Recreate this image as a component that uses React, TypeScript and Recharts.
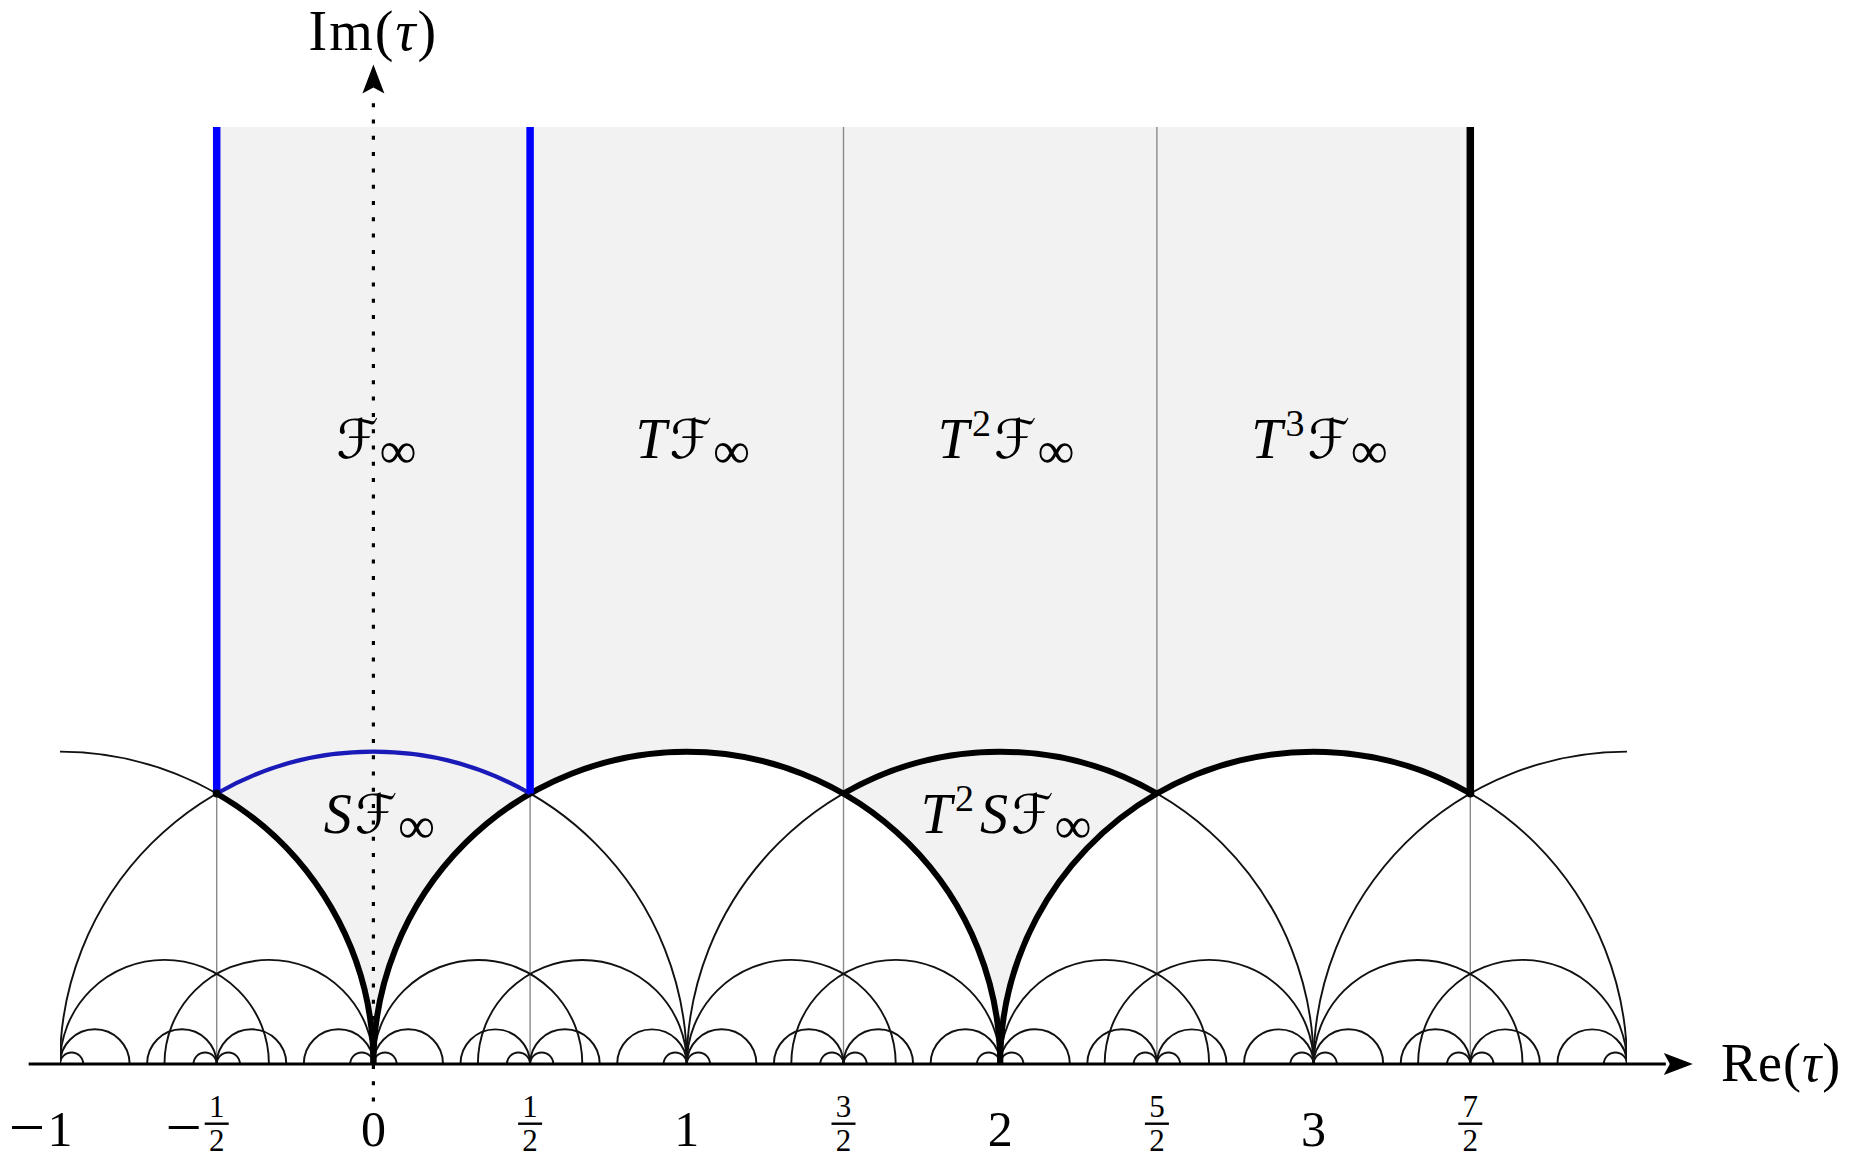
import React from "react";
import {
  ComposedChart,
  XAxis,
  YAxis,
  ReferenceArea,
  ReferenceLine,
  ReferenceDot,
  Scatter,
} from "recharts";

const H = Math.sqrt(3) / 2;

// Re(τ) tick positions and their labels
const xTicks = [-1, -0.5, 0, 0.5, 1, 1.5, 2, 2.5, 3, 3.5];
const tickLabels = ["−1", "−1/2", "0", "1/2", "1", "3/2", "2", "5/2", "3", "7/2"];

// strip edges Re(τ) = n + 1/2
const stripEdges = [-0.5, 0.5, 1.5, 2.5, 3.5];

// geodesics: centres on the real axis, grouped by radius
const unitCentres = [-1, 0, 1, 2, 3, 4];
const thirdCentres = [-2 / 3, -1 / 3, 1 / 3, 2 / 3, 4 / 3, 5 / 3, 7 / 3, 8 / 3, 10 / 3, 11 / 3];
const ninthCentres = [
  -8 / 9, -11 / 18, -7 / 18, -1 / 9, 1 / 9, 7 / 18, 11 / 18, 8 / 9, 10 / 9, 25 / 18,
  29 / 18, 17 / 9, 19 / 9, 43 / 18, 47 / 18, 26 / 9, 28 / 9, 61 / 18, 65 / 18, 35 / 9,
];
const tinyCentres = [
  -26 / 27, -29 / 54, -25 / 54, -1 / 27, 1 / 27, 25 / 54, 29 / 54, 26 / 27, 28 / 27, 79 / 54,
  83 / 54, 53 / 27, 55 / 27, 133 / 54, 137 / 54, 80 / 27, 82 / 27, 187 / 54, 191 / 54, 107 / 27,
];

// boundary pieces of the fundamental domains (circle centre, angles in degrees)
const thickArcs = [
  { c: -1, from: 0, to: 60 },
  { c: 1, from: 0, to: 180 },
  { c: 2, from: 60, to: 120 },
  { c: 3, from: 60, to: 180 },
];
const blueArcs = [{ c: 0, from: 60, to: 120 }];
const blueEdges = [-0.5, 0.5];
const blackEdges = [3.5];

const regionLabels = [
  { x: 0, y: 2, text: "F" },
  { x: 1, y: 2, text: "TF" },
  { x: 2, y: 2, text: "T2F" },
  { x: 3, y: 2, text: "T3F" },
  { x: 0, y: 0.8, text: "SF" },
  { x: 2, y: 0.8, text: "T2SF" },
];

const circles = [
  ...unitCentres.map((c) => ({ c, r: 1 })),
  ...thirdCentres.map((c) => ({ c, r: 1 / 3 })),
  ...ninthCentres.map((c) => ({ c, r: 1 / 9 })),
  ...tinyCentres.map((c) => ({ c, r: 1 / 27 })),
];

const SERIF = "'Liberation Serif', 'DejaVu Serif', serif";

/* ── shapes ── */
function ShadedStrip(props: any) {
  const { x, y, width, height, lo, hi, top } = props;
  const ux = width / (hi - lo);
  const uy = height / top;
  const X = (u: number) => x + (u - lo) * ux;
  const Y = (v: number) => y + height - v * uy;
  const d =
    `M${X(lo)},${Y(top)}L${X(hi)},${Y(top)}L${X(3.5)},${Y(H)}` +
    `A${ux},${uy} 0 0 0 ${X(2)},${Y(0)}` +
    `A${ux},${uy} 0 0 0 ${X(0)},${Y(0)}` +
    `A${ux},${uy} 0 0 0 ${X(-0.5)},${Y(H)}Z`;
  return (
    <g>
      <path d={d} fill="#f2f2f2" stroke="none" />
      {stripEdges.map((e) => (
        <line key={e} x1={X(e)} x2={X(e)} y1={Y(0)} y2={Y(top)} stroke="#8a8a8a" strokeWidth={1.4} />
      ))}
    </g>
  );
}

function SemiCircle(props: any) {
  const { x, y, width, height, clipPath } = props;
  const base = y + height;
  return (
    <path
      d={`M${x},${base}A${width / 2},${height} 0 0 1 ${x + width},${base}`}
      fill="none"
      stroke="#111"
      strokeWidth={1.9}
      clipPath={clipPath}
    />
  );
}

function ArcPiece(props: any) {
  const { x, y, width, height, startDeg, endDeg, arcColor, lineW } = props;
  const rx = width / 2;
  const ry = height;
  const cx = x + rx;
  const cy = y + height;
  const a0 = (startDeg * Math.PI) / 180;
  const a1 = (endDeg * Math.PI) / 180;
  const p0 = `${cx + rx * Math.cos(a0)},${cy - ry * Math.sin(a0)}`;
  const p1 = `${cx + rx * Math.cos(a1)},${cy - ry * Math.sin(a1)}`;
  const large = endDeg - startDeg > 180 ? 1 : 0;
  return (
    <path
      d={`M${p0}A${rx},${ry} 0 ${large} 0 ${p1}`}
      fill="none"
      stroke={arcColor}
      strokeWidth={lineW}
    />
  );
}

function EdgeLine(props: any) {
  const { x1, y1, x2, y2, edgeColor } = props;
  return <line x1={x1} y1={y1} x2={x2} y2={y2} stroke={edgeColor} strokeWidth={7.5} />;
}

function ArrowAxis(props: any) {
  const { x1, y1, x2, y2, dotted } = props;
  const len = Math.hypot(x2 - x1, y2 - y1);
  const ux = (x2 - x1) / len;
  const uy = (y2 - y1) / len;
  const L = 29;
  const W = 11;
  const bx = x2 - ux * L;
  const by = y2 - uy * L;
  return (
    <g>
      <line
        x1={x1}
        y1={y1}
        x2={bx + ux * 2}
        y2={by + uy * 2}
        stroke="#000"
        strokeWidth={dotted ? 3.2 : 2.8}
        strokeDasharray={dotted ? "4 12.3" : undefined}
      />
      <path
        d={`M${x2},${y2}L${bx - uy * W},${by + ux * W}L${bx + ux * 6},${by + uy * 6}L${bx + uy * W},${by - ux * W}Z`}
        fill="#000"
      />
    </g>
  );
}

function RegionLabel(props: any) {
  const { cx, cy, payload } = props;
  const parts: React.ReactNode[] = [];
  let cur = 0;
  const go = (t: number) => {
    const d = t - cur;
    cur = t;
    return d;
  };
  [...payload.text].forEach((ch: string, i: number) => {
    if (ch === "F") {
      parts.push(
        <tspan key={i} dy={go(0)} dx={3} fontFamily="'DejaVu Serif', 'DejaVu Sans', serif" fontSize={54}>
          ℱ
        </tspan>
      );
      parts.push(
        <tspan key={i + "s"} dy={go(10)} dx={1} fontSize={52}>
          ∞
        </tspan>
      );
    } else if (/\d/.test(ch)) {
      parts.push(
        <tspan key={i} dy={go(-22)} dx={3} fontSize={38}>
          {ch}
        </tspan>
      );
    } else {
      parts.push(
        <tspan key={i} dy={go(0)} dx={6} fontStyle="italic">
          {ch}
        </tspan>
      );
    }
  });
  return (
    <text x={cx} y={cy + 19} textAnchor="middle" fontFamily={SERIF} fontSize={56} fill="#000">
      {parts}
    </text>
  );
}

function TickLabel(props: any) {
  const { x, y, payload } = props;
  const label = tickLabels[xTicks.indexOf(payload.value)] ?? "";
  const neg = label.startsWith("−");
  const body = neg ? label.slice(1) : label;
  const [num, den] = body.split("/");
  return (
    <g fontFamily={SERIF} fill="#000">
      {neg && <rect x={x - 48} y={y + 62} width={30} height={3} fill="#000" />}
      {den ? (
        <g>
          <text x={x} y={y + 53} textAnchor="middle" fontSize={31}>
            {num}
          </text>
          <rect x={x - 12} y={y + 58.5} width={24} height={2.4} fill="#000" />
          <text x={x} y={y + 87} textAnchor="middle" fontSize={31}>
            {den}
          </text>
        </g>
      ) : (
        <text x={x} y={y + 82} textAnchor="middle" fontSize={50}>
          {num}
        </text>
      )}
    </g>
  );
}

export default function App() {
  return (
    <div style={{ position: "absolute", left: 0, top: 0, background: "#fff" }}>
      <ComposedChart
        width={1856}
        height={1158}
        margin={{ top: 127, right: 229, bottom: 30, left: 60 }}
      >
        <XAxis
          type="number"
          dataKey="x"
          domain={[-1, 4]}
          allowDataOverflow
          ticks={xTicks}
          interval={0}
          axisLine={false}
          tickLine={false}
          tickSize={0}
          tickMargin={0}
          height={64}
          tick={<TickLabel />}
        />
        <YAxis type="number" dataKey="y" domain={[0, 3]} allowDataOverflow hide />

        <ReferenceArea
          x1={-0.5}
          x2={3.5}
          y1={0}
          y2={3}
          ifOverflow="visible"
          shape={<ShadedStrip lo={-0.5} hi={3.5} top={3} />}
        />

        {circles.map((g, i) => (
          <ReferenceArea
            key={"c" + i}
            x1={g.c - g.r}
            x2={g.c + g.r}
            y1={0}
            y2={g.r}
            ifOverflow="hidden"
            shape={<SemiCircle />}
          />
        ))}

        {thickArcs.map((a, i) => (
          <ReferenceArea
            key={"t" + i}
            x1={a.c - 1}
            x2={a.c + 1}
            y1={0}
            y2={1}
            ifOverflow="visible"
            shape={<ArcPiece startDeg={a.from} endDeg={a.to} arcColor="#000" lineW={6} />}
          />
        ))}
        {blueArcs.map((a, i) => (
          <ReferenceArea
            key={"b" + i}
            x1={a.c - 1}
            x2={a.c + 1}
            y1={0}
            y2={1}
            ifOverflow="visible"
            shape={<ArcPiece startDeg={a.from} endDeg={a.to} arcColor="#1a1ab8" lineW={4.2} />}
          />
        ))}

        {blueEdges.map((e) => (
          <ReferenceLine
            key={"be" + e}
            segment={[{ x: e, y: H }, { x: e, y: 3 }]}
            ifOverflow="visible"
            shape={<EdgeLine edgeColor="#0000ff" />}
          />
        ))}
        {blackEdges.map((e) => (
          <ReferenceLine
            key={"ke" + e}
            segment={[{ x: e, y: H }, { x: e, y: 3 }]}
            ifOverflow="visible"
            shape={<EdgeLine edgeColor="#000" />}
          />
        ))}

        <ReferenceLine
          segment={[{ x: -1.1, y: 0 }, { x: 4.21, y: 0 }]}
          ifOverflow="visible"
          shape={<ArrowAxis />}
        />
        <ReferenceLine
          segment={[{ x: 0, y: -0.12 }, { x: 0, y: 3.2 }]}
          ifOverflow="visible"
          shape={<ArrowAxis dotted />}
        />

        <ReferenceDot x={-0.5} y={H} r={4} fill="#000" stroke="none" ifOverflow="visible" />
        <ReferenceDot x={3.5} y={H} r={4} fill="#000" stroke="none" ifOverflow="visible" />

        <ReferenceDot
          x={4.3}
          y={0}
          ifOverflow="visible"
          shape={(p: any) => (
            <text x={p.cx} y={p.cy + 17} fontFamily={SERIF} fontSize={54} fill="#000" letterSpacing={1}>
              Re(<tspan fontStyle="italic">τ</tspan>)
            </text>
          )}
        />
        <ReferenceDot
          x={0}
          y={3.25}
          ifOverflow="visible"
          shape={(p: any) => (
            <text
              x={p.cx}
              y={p.cy + 1}
              textAnchor="middle"
              fontFamily={SERIF}
              fontSize={56}
              fill="#000"
              letterSpacing={2}
            >
              Im(<tspan fontStyle="italic">τ</tspan>)
            </text>
          )}
        />

        <Scatter data={regionLabels} dataKey="y" isAnimationActive={false} shape={<RegionLabel />} />
      </ComposedChart>
    </div>
  );
}
